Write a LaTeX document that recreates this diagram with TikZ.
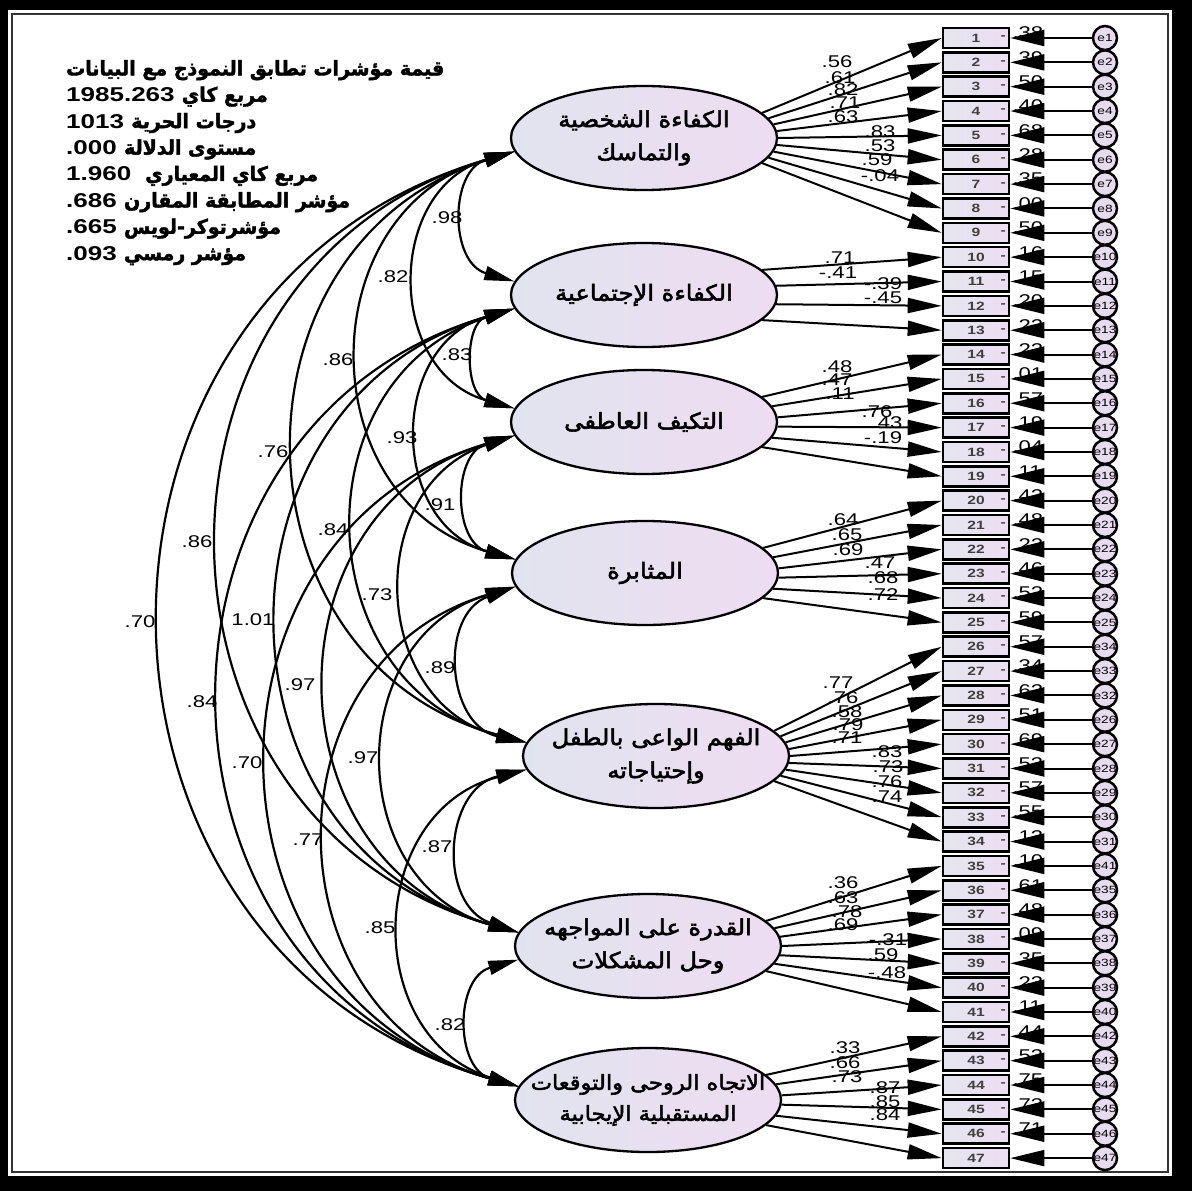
\documentclass[tikz,border=0pt]{standalone}
\usepackage{fontspec}
\setmainfont{Liberation Sans}[FakeStretch=1.3]
\newfontfamily\arabicfont[Script=Arabic,FakeStretch=1.1,FakeBold=2.5]{DejaVu Sans}
\newfontfamily\arabicnarrow[Script=Arabic,FakeStretch=0.95,FakeBold=2]{DejaVu Sans}
\TeXXeTstate=1
\usetikzlibrary{arrows.meta,positioning,calc,shapes.geometric}
\definecolor{LatentL}{RGB}{225,228,238}
\definecolor{LatentR}{RGB}{238,220,242}
\definecolor{ItemL}{RGB}{228,229,238}
\definecolor{ItemR}{RGB}{236,222,243}
\definecolor{ErrFill}{RGB}{230,220,238}
\newcommand{\artxt}[1]{{\arabicfont\beginR #1\endR}}
\newcommand{\arnum}[2]{\beginR{\arabicnarrow #1} \beginL#2\endL\endR}

\begin{document}
\begin{tikzpicture}[x=1pt,y=-1pt,
  latent/.style={ellipse,draw,line width=2.3pt,minimum width=266pt,minimum height=104pt,
    left color=LatentL,right color=LatentR,inner sep=0pt},
  latentname/.style={align=center,font=\fontsize{22}{33}\selectfont,inner sep=0pt},
  item/.style={rectangle,draw,line width=2.6pt,minimum width=66pt,minimum height=20pt,
    left color=ItemL,right color=ItemR,inner sep=0pt,
    font=\fontsize{12}{12}\selectfont\bfseries,text=black!75},
  errv/.style={circle,draw,line width=2.5pt,minimum size=24pt,fill=ErrFill,inner sep=0pt,
    font=\fontsize{10.5}{10.5}\selectfont},
  load/.style={-{Triangle[length=34pt,width=15pt]},line width=2pt},
  errpath/.style={-{Triangle[length=34pt,width=16pt]},line width=2pt},
  cov/.style={{Triangle[length=30pt,width=14pt]}-{Triangle[length=30pt,width=14pt]},
    line width=2.2pt,bend right=74,looseness=1.34},
  est/.style={font=\fontsize{17}{17}\selectfont,inner sep=0pt},
  rsq/.style={font=\fontsize{17}{17}\selectfont,inner sep=0pt,anchor=west},
  legendtxt/.style={align=left,anchor=north west,font=\fontsize{20}{26.4}\selectfont\bfseries,inner sep=0pt}]

% frame
\useasboundingbox (0,0) rectangle (1192,1191);
\fill[black] (0,0) rectangle (1192,1191);
\fill[white] (8,10) rectangle (1172,1176);
\draw[black!80,line width=1.2pt] (12,14) rectangle (1168,1172);

% fit indices
\node[legendtxt] (fitidx) at (66,60) {%
  {\arabicnarrow\beginR قيمة مؤشرات تطابق النموذج مع البيانات\endR}\\
  \arnum{مربع كاي}{1985.263}\\
  \arnum{درجات الحرية}{1013}\\
  \arnum{مستوى الدلالة}{.000}\\
  \beginR{\arabicnarrow مربع كاي المعياري}\hspace{14pt}\beginL1.960\endL\endR\\
  \arnum{مؤشر المطابقة المقارن}{.686}\\
  \arnum{مؤشرتوكر-لويس}{.665}\\
  \arnum{مؤشر رمسي}{.093}};

% latent variables
\node[latent] (f1) at (644,138) {};
\node[latent] (f2) at (644,295) {};
\node[latent] (f3) at (644,422) {};
\node[latent] (f4) at (645,573) {};
\node[latent] (f5) at (656,756) {};
\node[latent] (f6) at (648,946) {};
\node[latent] (f7) at (648,1100) {};
\node[latentname] (n1) at (f1) {\artxt{الكفاءة الشخصية}\\\artxt{والتماسك}};
\node[latentname] (n2) at (f2) {\artxt{الكفاءة الإجتماعية}};
\node[latentname] (n3) at (f3) {\artxt{التكيف العاطفى}};
\node[latentname] (n4) at (f4) {\artxt{المثابرة}};
\node[latentname] (n5) at (f5) {\artxt{الفهم الواعى بالطفل}\\\artxt{وإحتياجاته}};
\node[latentname] (n6) at (f6) {\artxt{القدرة على المواجهه}\\\artxt{وحل المشكلات}};
\node[latentname,font=\fontsize{20.5}{31}\selectfont] (n7) at (f7)
  {\artxt{الاتجاه الروحى والتوقعات}\\\artxt{المستقبلية الإيجابية}};

% loadings
\foreach \v/\x/\y [count=\n] in {.56/837/62,.61/840/78,.82/843/90,.71/845/103,.63/843/117,
    .83/880/132,.53/880/146,.59/877/160,-.04/880/176,
    .71/840/258,-.41/838/273,-.39/883/284,-.45/883/298,
    .48/837/367,.47/837/380,.11/840/394,.76/877/412,.43/887/423,-.19/883/438,
    .64/843/520,.65/847/535,.69/848/550,.47/880/563,.68/883/578,.72/883/595,
    .77/838/683,.76/843/698,.58/847/712,.79/848/725,.71/847/738,
    .83/887/752,.73/888/767,.76/887/782,.74/887/797,
    .36/843/883,.63/843/898,.78/847/912,.69/843/925,-.31/888/940,.59/883/955,-.48/887/973,
    .33/845/1048,.66/845/1063,.73/847/1077,.87/885/1088,.85/885/1102,.84/885/1115}
  \node[est] (ld\n) at (\x,\y) {\v};

% observed items and errors
\foreach \i/\el/\rs [evaluate=\i as \yy using 38+(\i-1)*24.35] in {1/1/.38,2/2/.39,3/3/.50,
    4/4/.40,5/5/.68,6/6/.28,7/7/.35,8/8/.00,9/9/.50,10/10/.16,11/11/.15,12/12/.20,13/13/.22,
    14/14/.22,15/15/.01,16/16/.57,17/17/.19,18/18/.04,19/19/.11,20/20/.42,21/21/.48,
    22/22/.22,23/23/.46,24/24/.52,25/25/.59,26/34/.57,27/33/.34,28/32/.62,29/26/.51,
    30/27/.69,31/28/.53,32/29/.57,33/30/.55,34/31/.13,35/41/.10,36/35/.61,37/36/.48,
    38/37/.09,39/38/.35,40/39/.23,41/40/.11,42/42/.44,43/43/.53,44/44/.75,45/45/.73,
    46/46/.71,47/47/{}} {
  \node[item] (b\i) at (976,\yy) {\i};
  \node[errv] (e\i) at (1105,\yy) {e\el};
  \node[rsq] (r\i) at ($(b\i.east)+(2,-5)$) {\rs};
  \draw[errpath] (e\i) -- (b\i.east);
}
\foreach \i in {1,...,46}
  \node[font=\fontsize{12}{12}\selectfont\bfseries,text=black!75,inner sep=0pt] (d\i) at ($(b\i.east)+(-7,0)$) {-};

\foreach \f/\a/\b in {1/1/9,2/10/13,3/14/19,4/20/25,5/26/34,6/35/41,7/42/47}
  \foreach \i in {\a,...,\b} {
    \pgfmathtruncatemacro\ang{mod(round(372-24*(\i-\a)/(\b-\a)),360)}
    \draw[load] (f\f.\ang) -- (b\i.west);
  }

% covariances
\foreach \p in {1,...,6} {
  \pgfmathtruncatemacro\pp{\p+1}
  \foreach \q in {\pp,...,7}
    \draw[cov] (f\p.186) to (f\q.174);
}
\foreach \v/\x/\y [count=\n] in {.98/447/218,.83/457/355,.91/440/505,.89/440/668,.87/437/847,
    .82/450/1025,.82/393/277,.93/402/438,.73/377/595,.97/363/758,.85/380/928,
    .86/338/360,.84/333/530,.97/300/685,.77/308/840,.76/273/452,1.01/253/620,
    .70/247/763,.86/197/542,.84/202/702,.70/140/622}
  \node[est] (cv\n) at (\x,\y) {\v};
\end{tikzpicture}
\end{document}
